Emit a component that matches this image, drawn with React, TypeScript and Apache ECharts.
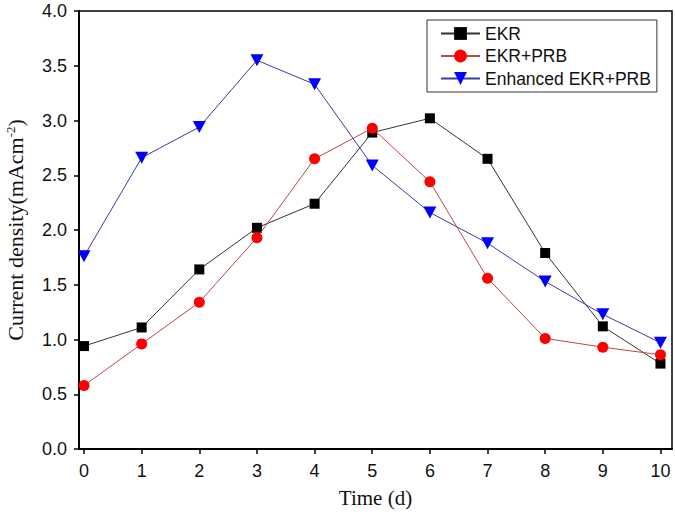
import React, { useEffect, useRef } from "react";
import * as echarts from "echarts";

const days = [0, 1, 2, 3, 4, 5, 6, 7, 8, 9, 10];
const ekr = [0.94, 1.11, 1.64, 2.02, 2.24, 2.89, 3.02, 2.65, 1.79, 1.12, 0.78];
const ekrPrb = [0.58, 0.96, 1.34, 1.93, 2.65, 2.93, 2.44, 1.56, 1.01, 0.93, 0.86];
const enhanced = [1.76, 2.66, 2.94, 3.55, 3.33, 2.59, 2.16, 1.88, 1.53, 1.23, 0.97];
const seriesNames = ["EKR", "EKR+PRB", "Enhanced EKR+PRB"];

export default function App() {
  const ref = useRef<HTMLDivElement>(null);
  useEffect(() => {
    if (!ref.current) return;
    const chart = echarts.init(ref.current, undefined, { renderer: "svg" });
    const mk = (arr: number[]) => arr.map((v, i) => [days[i], v]);
    chart.setOption({
      animation: false,
      backgroundColor: "#ffffff",
      grid: {
        left: 79,
        right: 3,
        top: 11,
        bottom: 63,
        containLabel: false,
        outerBoundsMode: "none",
        show: true,
        borderColor: "#000",
        borderWidth: 1.5,
        backgroundColor: "transparent",
      },
      legend: {
        orient: "vertical",
        left: 427,
        top: 20,
        padding: [4.5, 6, 4.5, 13],
        borderColor: "#333",
        borderWidth: 1,
        itemWidth: 39,
        itemHeight: 16,
        itemGap: 4.5,
        textStyle: { fontFamily: "Liberation Sans, Arial", fontSize: 17.5, color: "#111" },
        data: seriesNames,
      },
      xAxis: {
        type: "value",
        min: -0.087,
        max: 10.2,
        name: "Time (d)",
        nameLocation: "middle",
        nameGap: 38,
        nameTextStyle: { fontFamily: "Liberation Serif, Times New Roman", fontSize: 21, color: "#111" },
        axisLine: { show: true, onZero: false, lineStyle: { color: "#000", width: 2 } },
        axisTick: { show: true, inside: false, length: 5, customValues: days, lineStyle: { color: "#000", width: 1.5 } },
        axisLabel: {
          customValues: days,
          margin: 13,
          fontFamily: "Liberation Sans, Arial",
          fontSize: 18,
          color: "#111",
        },
        splitLine: { show: false },
      },
      yAxis: {
        type: "value",
        min: 0,
        max: 4,
        interval: 0.5,
        name: "Current density(mAcm{sup|-2})",
        nameLocation: "middle",
        nameGap: 52,
        nameTextStyle: {
          fontFamily: "Liberation Serif, Times New Roman",
          fontSize: 22,
          color: "#111",
          rich: {
            sup: { fontFamily: "Liberation Serif, Times New Roman", fontSize: 13, verticalAlign: "top", color: "#111", padding: [0, 0, 10, 0] },
          },
        },
        axisLine: { show: true, onZero: false, lineStyle: { color: "#000", width: 2 } },
        axisTick: { show: true, inside: false, length: 5, lineStyle: { color: "#000", width: 1.5 } },
        axisLabel: {
          margin: 12,
          fontFamily: "Liberation Sans, Arial",
          fontSize: 18,
          color: "#111",
          formatter: (v: number) => v.toFixed(1),
        },
        splitLine: { show: false },
      },
      series: [
        {
          name: seriesNames[0],
          type: "line",
          data: mk(ekr),
          symbol: "rect",
          symbolSize: 10,
          itemStyle: { color: "#000" },
          lineStyle: { color: "#333", width: 1 },
          z: 3,
        },
        {
          name: seriesNames[1],
          type: "line",
          data: mk(ekrPrb),
          symbol: "circle",
          symbolSize: 11,
          itemStyle: { color: "#ff0000" },
          lineStyle: { color: "#b84848", width: 1 },
          z: 4,
        },
        {
          name: seriesNames[2],
          type: "line",
          data: mk(enhanced),
          symbol: "triangle",
          symbolRotate: 180,
          symbolSize: [13, 12],
          itemStyle: { color: "#0000ff" },
          lineStyle: { color: "#3c3ca0", width: 1 },
          z: 5,
        },
      ],
    });
    return () => chart.dispose();
  }, []);
  return <div ref={ref} style={{ width: 675, height: 512, position: "absolute", left: 0, top: 0 }} />;
}
